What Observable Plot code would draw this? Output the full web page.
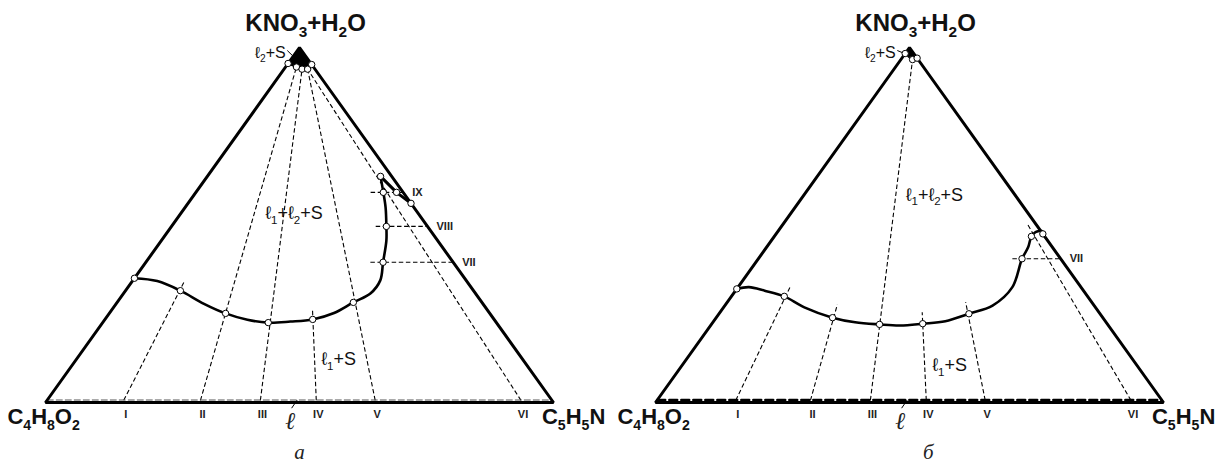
<!DOCTYPE html>
<html><head><meta charset="utf-8">
<script src="https://cdn.jsdelivr.net/npm/d3@7"></script>
<script src="https://cdn.jsdelivr.net/npm/@observablehq/plot@0.6"></script>
<style>
body{margin:0;background:#fff;}
#wrap{display:flex;width:1220px;height:466px;overflow:hidden;}
</style></head><body><div id="wrap"></div>
<script>
// Compositions as [C5H5N %, (KNO3+H2O) %]; the remainder is C4H8O2.
const triangle = [[50,0],[100,0],[0,100],[0,0],[50,0]];
const baseLiquid = [[0,0.7],[99.3,0.7]];
const tieLabels = ["I","II","III","IV","V","VI"];
const eutecticL = 49.2;

// ---- panel а ----
const curveA = [[0,35],[4.9,34.2],[10.8,31.5],[17.3,27.8],[22.9,25.1],[28.1,23.3],[32.6,22.5],[36.8,22.8],[40.9,23.4],[44.2,25.2],[46.5,28.2],[48.6,30.7],[48.7,34.4],[46.7,39.5],[44.3,45.6],[42.3,49.6],[39.5,54.9],[36.9,59.2],[34.1,63.7]];
const wedgeA = [[34.1,63.7],[39.5,59.2],[43.9,56.1]];
const capA = [[0,95.5],[2.15,94.5],[3.55,93.9],[4.65,93.9],[4.8,95.2]];
const pointsA = [[0,35],[10.8,31.5],[22.9,25.1],[32.6,22.5],[40.9,23.4],[46.5,28.2],[46.7,39.5],[42.3,49.6],[36.9,59.2],[34.1,63.7],[39.5,59.2],[43.9,56.1],[0,95.5],[2.15,94.5],[3.55,93.9],[4.65,93.9],[4.8,95.2]];
const tiesA = [[[15.1,0.6],[10.3,33.9]],[[30.2,0.6],[2.15,94.5]],[[42.0,0.6],[3.55,93.9]],[[53.0,0.6],[39.3,26.5]],[[64.6,0.6],[4.65,93.9]],[[93.3,0.6],[4.65,93.9]]];
const levelLabelsA = ["VII","VIII","IX"];
const levelsA = [[39.5,44.2,60.5],[49.6,40.2,50.4],[59.2,34.4,41.2]]; // [c, b from, b to]

// ---- panel б ----
const curveB = [[0,32],[2.15,32.5],[5.75,31.5],[10.4,29.9],[15.9,26.8],[22.9,23.9],[28.0,22.6],[33.1,22.0],[37.3,21.7],[41.5,22.2],[45.6,22.9],[49.2,25.0],[52.7,27.3],[54.0,32.5],[51.9,40.5],[51.5,43.7],[50.6,46.8],[50.8,48.0],[51.95,48.3],[52.5,47.5]];
const wedgeB = [];
const capB = [[0,98.3],[2.3,96.6],[3.0,97.0]];
const pointsB = [[0,32],[10.4,29.9],[22.9,23.9],[33.1,22.0],[41.5,22.2],[49.2,25.0],[51.9,40.5],[50.6,46.8],[52.5,47.5],[0,98.3],[2.3,96.6],[3.0,97.0]];
const tiesB = [[[15.5,0.6],[10.2,32.7]],[[30.2,0.6],[22.0,27.6]],[[42.0,0.6],[2.3,96.6]],[[53.0,0.6],[39.8,25.4]],[[64.6,0.6],[46.9,28.3]],[[93.3,0.6],[48.05,50.3]]];
const levelLabelsB = ["VII"];
const levelsB = [[40.5,50.0,59.5]];

const X = p => p[0] + p[1] / 2;
const Y = p => p[1];
const SANS = "'Liberation Sans', Arial, sans-serif";
const SERIF = "'Liberation Serif', 'Times New Roman', serif";

function panel(o) {
  const dash = {stroke: "black", strokeWidth: 1.1, strokeDasharray: "4.5,2.6"};
  return Plot.plot({
    width: 610, height: 466,
    marginTop: 0, marginRight: 0, marginBottom: 0, marginLeft: 0,
    x: {domain: [0, 100], range: [45, 553], axis: null},
    y: {domain: [0, 100], range: [402, 47], axis: null},
    style: {fontFamily: SANS, background: "white", overflow: "visible"},
    marks: [
      Plot.line([[0,100], ...o.cap, [0,100]], {x: X, y: Y, fill: "black", stroke: "black", strokeWidth: 1}),
      Plot.link(o.ties, {x1: s => X(s[0]), y1: s => Y(s[0]), x2: s => X(s[1]), y2: s => Y(s[1]), ...dash}),
      Plot.link(o.levels, {x1: l => l[1] + l[0]/2, y1: l => l[0], x2: l => l[2] + l[0]/2, y2: l => l[0], ...dash}),
      Plot.line(baseLiquid, {x: X, y: Y, stroke: o.baseStroke, strokeWidth: o.baseWidth, strokeDasharray: o.baseDash}),
      Plot.line(triangle, {x: X, y: Y, stroke: "black", strokeWidth: 3, strokeLinejoin: "miter"}),
      Plot.line(o.curve, {x: X, y: Y, curve: "catmull-rom", stroke: "black", strokeWidth: 2.6}),
      Plot.line(o.wedge, {x: X, y: Y, stroke: "black", strokeWidth: 3}),
      Plot.line(o.cap, {x: X, y: Y, curve: "catmull-rom", stroke: "black", strokeWidth: 1.5}),
      Plot.link([eutecticL], {x1: b => b - 0.75, y1: -1.6, x2: b => b + 0.35, y2: 0.7, stroke: "black", strokeWidth: 1}),
      Plot.link([o.leader], {x1: d => d[0], y1: d => d[1], x2: d => d[2], y2: d => d[3], stroke: "black", strokeWidth: 1}),
      Plot.dot(o.points, {x: X, y: Y, r: 3.2, fill: "white", stroke: "black", strokeWidth: 1}),
      Plot.text(["KNO3+H2O"], {x: 51.2, y: 106.9, fontSize: 24, fontWeight: "bold", fill: "#111"}),
      Plot.text(["C4H8O2"], {x: -7.5, y: -4.2, textAnchor: "start", fontSize: 22, fontWeight: "bold", fill: "#111"}),
      Plot.text(["C5H5N"], {x: 110.2, y: -4.2, textAnchor: "end", fontSize: 22, fontWeight: "bold", fill: "#111"}),
      Plot.text(o.ties, {x: s => X(s[0]) + 0.4, y: -3.3, text: (s, i) => tieLabels[i], fontSize: 11, fontWeight: "bold", fill: "#222"}),
      Plot.text(o.levels, {x: l => 100 - l[0]/2, y: l => l[0], dx: 9, textAnchor: "start", text: (l, i) => o.levelLabels[i], fontSize: 11, fontWeight: "bold", fill: "#222"}),
      Plot.text(["ℓ"], {x: eutecticL - 1, y: -5.4, fontSize: 24, fontStyle: "italic", fontFamily: SERIF, fill: "#222"}),
      Plot.text([o.caption], {x: o.captionX, y: -14, fontSize: 21, fontStyle: "italic", fontFamily: SERIF, fill: "#222"}),
      Plot.text(["ℓ1+ℓ2+S"], {x: o.big[0], y: o.big[1], fontSize: 18, fill: "#111"}),
      Plot.text(["ℓ1+S"], {x: o.small[0], y: o.small[1], fontSize: 18, fill: "#111"}),
      Plot.text(["ℓ2+S"], {x: 47.3, y: 98.6, textAnchor: "end", fontSize: 16, fill: "#111"})
    ]
  });
}

function subscriptify(svg) {
  d3.select(svg).selectAll("text").each(function() {
    if (this.querySelector("tspan")) return;
    const t = this.textContent;
    if (!/\d/.test(t)) return;
    const fs = parseFloat(getComputedStyle(this).fontSize) || 16;
    const parts = t.match(/\d+|\D+/g);
    this.textContent = "";
    let shifted = false;
    for (const p of parts) {
      const ts = document.createElementNS("http://www.w3.org/2000/svg", "tspan");
      ts.textContent = p;
      if (/\d/.test(p)) {
        ts.setAttribute("font-size", (fs * 0.64).toFixed(1));
        ts.setAttribute("dy", (fs * 0.26).toFixed(1));
        shifted = true;
      } else if (shifted) {
        ts.setAttribute("dy", (-fs * 0.26).toFixed(1));
        shifted = false;
      }
      this.appendChild(ts);
    }
  });
}

const wrap = document.getElementById("wrap");
const a = panel({curve: curveA, wedge: wedgeA, cap: capA, points: pointsA, ties: tiesA, levels: levelsA, levelLabels: levelLabelsA,
  baseStroke: "#555", baseWidth: 1, baseDash: "6,3", caption: "а", captionX: 50.0,
  big: [48.9, 53.2], small: [57.7, 12.1], leader: [47.6, 99.15, 49.2, 96.9]});
const b = panel({curve: curveB, wedge: wedgeB, cap: capB, points: pointsB, ties: tiesB, levels: levelsB, levelLabels: levelLabelsB,
  baseStroke: "black", baseWidth: 2.4, baseDash: "8,4", caption: "б", captionX: 53.7,
  big: [54.9, 58.5], small: [57.9, 10.4], leader: [47.6, 99.15, 49.2, 98.2]});
wrap.appendChild(a);
wrap.appendChild(b);
subscriptify(a);
subscriptify(b);
</script></body></html>
